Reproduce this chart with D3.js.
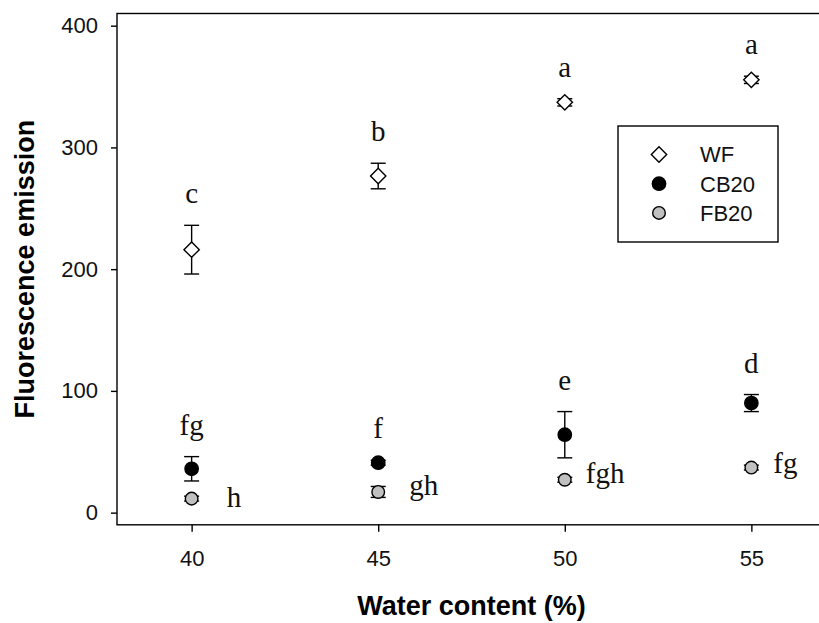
<!DOCTYPE html>
<html>
<head>
<meta charset="utf-8">
<script src="https://cdn.jsdelivr.net/npm/d3@7"></script>
<style>
  body { margin: 0; background: #fff; }
  svg { display: block; }
  text { font-family: Arial, "Liberation Sans", sans-serif; }
  .sig { font-family: "Liberation Serif", "DejaVu Serif", serif; }
</style>
</head>
<body>
<div id="graph"></div>
<script>
// data
var water    = [40, 45, 50, 55]
var wfMean   = [216, 276.5, 337, 355.5]
var wfErr    = [20, 10.5, 3, 3]
var cbMean   = [36, 41, 64, 90]
var cbErr    = [10, 2, 19, 7]
var fbMean   = [11.5, 17, 27, 37]
var fbErr    = [2, 4.5, 2, 2]
var wfLetter = ["c", "b", "a", "a"]
var cbLetter = ["fg", "f", "e", "d"]
var fbLetter = ["h", "gh", "fgh", "fg"]
var yTicks   = [0, 100, 200, 300, 400]
var xTicks   = [40, 45, 50, 55]

var width = 819, height = 623
var svg = d3.select("#graph").append("svg")
            .attr("width", width).attr("height", height)

var x = d3.scaleLinear().domain([38, 57]).range([117, 826])
var y = d3.scaleLinear().domain([-10, 410]).range([524.8, 13.5])

// frame
svg.append("rect")
   .attr("x", x(38)).attr("y", y(410))
   .attr("width", x(57) - x(38)).attr("height", y(-10) - y(410))
   .attr("fill", "none").attr("stroke", "#000").attr("stroke-width", 1.4)

var yAxis = svg.append("g")
               .attr("transform", "translate(" + x(38) + ",0)")
               .call(d3.axisLeft(y).tickValues(yTicks).tickSize(6).tickPadding(13))
var xAxis = svg.append("g")
               .attr("transform", "translate(0," + y(-10) + ")")
               .call(d3.axisBottom(x).tickValues(xTicks).tickSize(7).tickPadding(19))

;[yAxis, xAxis].forEach(function(a){
    a.select(".domain").remove()
    a.selectAll("line").attr("stroke", "#000").attr("stroke-width", 1.4)
    a.selectAll("text").attr("font-size", "22px").attr("font-family", "Arial, 'Liberation Sans', sans-serif").attr("fill", "#111")
})

svg.append("text")
   .attr("x", (x(38) + x(57)) / 2).attr("y", 615)
   .attr("text-anchor", "middle").attr("font-size", "27px").attr("font-weight", "bold")
   .text("Water content (%)")

svg.append("text")
   .attr("transform", "translate(34," + (y(-10) + y(410)) / 2 + ") rotate(-90)")
   .attr("text-anchor", "middle").attr("font-size", "27px").attr("font-weight", "bold")
   .text("Fluorescence emission")

var series = [
    {name: "WF",   mean: wfMean, err: wfErr, fill: "#fff",    shape: d3.symbolDiamond2},
    {name: "CB20", mean: cbMean, err: cbErr, fill: "#000",    shape: d3.symbolCircle},
    {name: "FB20", mean: fbMean, err: fbErr, fill: "#c0c0c0", shape: d3.symbolCircle}
]
var symSize = {WF: 150, CB20: 140, FB20: 125}

series.forEach(function(s){
    var pts = water.map(function(w, i){ return {w: w, m: s.mean[i], e: s.err[i]} })
    var g = svg.append("g")
    var eb = g.selectAll(".eb").data(pts).enter().append("g").attr("stroke", "#000").attr("stroke-width", 1.4)
    eb.append("line")
      .attr("x1", function(d){ return x(d.w) }).attr("x2", function(d){ return x(d.w) })
      .attr("y1", function(d){ return y(d.m + d.e) }).attr("y2", function(d){ return y(d.m - d.e) })
    eb.append("line")
      .attr("x1", function(d){ return x(d.w) - 7.5 }).attr("x2", function(d){ return x(d.w) + 7.5 })
      .attr("y1", function(d){ return y(d.m + d.e) }).attr("y2", function(d){ return y(d.m + d.e) })
    eb.append("line")
      .attr("x1", function(d){ return x(d.w) - 7.5 }).attr("x2", function(d){ return x(d.w) + 7.5 })
      .attr("y1", function(d){ return y(d.m - d.e) }).attr("y2", function(d){ return y(d.m - d.e) })
    g.selectAll("path").data(pts).enter().append("path")
     .attr("d", d3.symbol().type(s.shape).size(symSize[s.name]))
     .attr("transform", function(d){ return "translate(" + x(d.w) + "," + y(d.m) + ")" })
     .attr("fill", s.fill).attr("stroke", "#000").attr("stroke-width", 1.4)
})

// significance letters
var topLetters = [{m: wfMean, e: wfErr, t: wfLetter}, {m: cbMean, e: cbErr, t: cbLetter}]
topLetters.forEach(function(s){
    svg.append("g").selectAll("text").data(water).enter().append("text")
       .attr("class", "sig")
       .attr("x", function(w){ return x(w) })
       .attr("y", function(w, i){ return y(s.m[i] + s.e[i]) - 22 })
       .attr("text-anchor", "middle").attr("font-size", "29px").attr("fill", "#111")
       .text(function(w, i){ return s.t[i] })
})
var fbNudge = [[35, 8], [31, 3], [21, 3], [22, 5]]
svg.append("g").selectAll("text").data(water).enter().append("text")
   .attr("class", "sig")
   .attr("x", function(w, i){ return x(w) + fbNudge[i][0] })
   .attr("y", function(w, i){ return y(fbMean[i]) + fbNudge[i][1] })
   .attr("font-size", "29px").attr("fill", "#111")
   .text(function(w, i){ return fbLetter[i] })

// legend
var legend = svg.append("g")
legend.append("rect")
      .attr("x", 618).attr("y", 126).attr("width", 160).attr("height", 116)
      .attr("fill", "#fff").attr("stroke", "#000").attr("stroke-width", 1.4)
var rows = legend.selectAll(".row").data(series).enter().append("g")
                 .attr("transform", function(d, i){ return "translate(659," + (154.5 + i * 29.2) + ")" })
rows.append("path")
    .attr("d", function(d){ return d3.symbol().type(d.shape).size(symSize[d.name])() })
    .attr("fill", function(d){ return d.fill }).attr("stroke", "#000").attr("stroke-width", 1.4)
rows.append("text")
    .attr("x", 41).attr("dy", "0.36em").attr("font-size", "22px").attr("fill", "#111")
    .text(function(d){ return d.name })
</script>
</body>
</html>
